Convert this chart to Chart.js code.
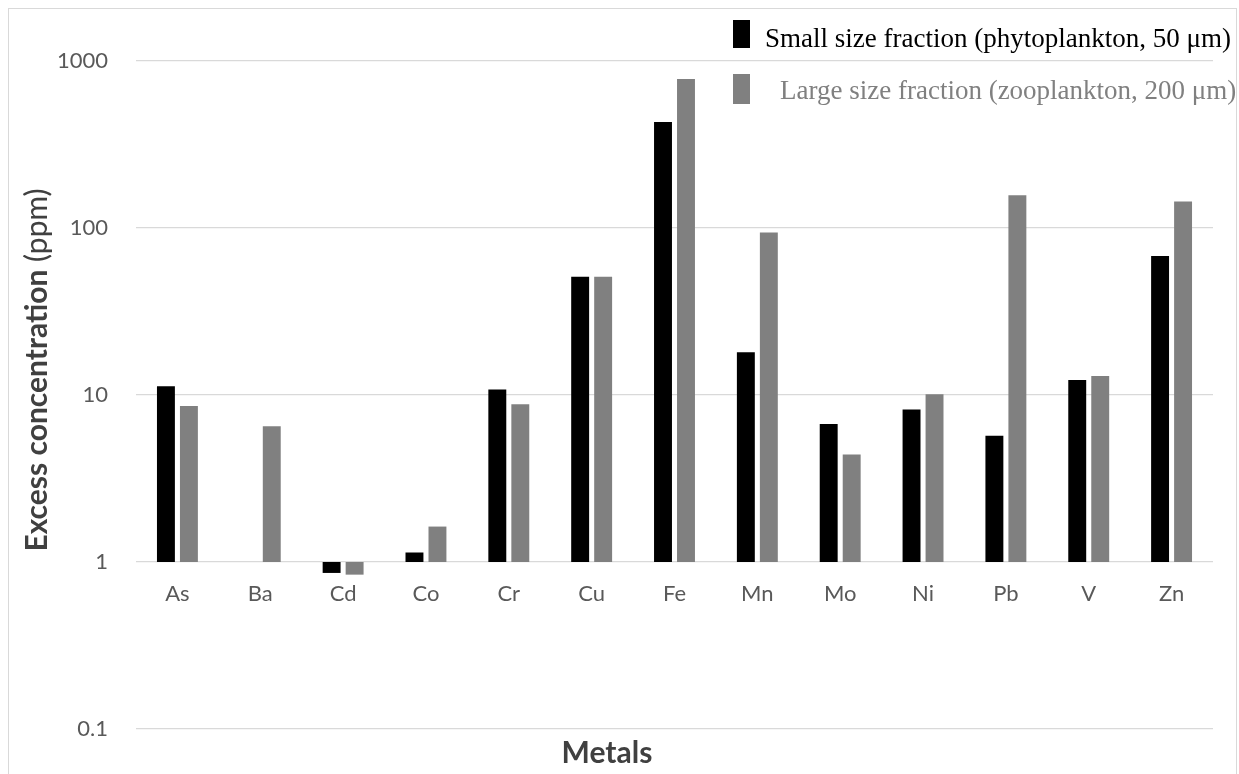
<!DOCTYPE html>
<html>
<head>
    <title>Excess concentration of metals</title>
    <script src="https://cdn.jsdelivr.net/npm/chart.js"></script>
    <style>
        body { margin: 0; background: #ffffff; }
    </style>
</head>
<body>
    <canvas id="chart" width="1239" height="774"></canvas>

    <script>
        const metals = ["As", "Ba", "Cd", "Co", "Cr", "Cu", "Fe", "Mn", "Mo", "Ni", "Pb", "V", "Zn"];
        const smallFraction = [11.3, null, 0.86, 1.14, 10.8, 51, 431, 18, 6.7, 8.2, 5.7, 12.3, 68];
        const largeFraction = [8.6, 6.5, 0.84, 1.63, 8.8, 51, 780, 94, 4.4, 10.1, 157, 13.0, 144];
        const yTicks = [0.1, 1, 10, 100, 1000];
        const seriesNames = [
            "Small size fraction (phytoplankton, 50 \u03bcm)",
            "Large size fraction (zooplankton, 200 \u03bcm)"
        ];
        const seriesColors = ["#000000", "#808080"];

        // Excel draws the bars from the value axis crossing at 1
        const baseValue = 1;
        function toBars(values) {
            return values.map(v => v == null ? null : [baseValue, v]);
        }

        const labelFont = "Lato, 'Open Sans', sans-serif";

        const decorations = {
            id: "decorations",
            afterDraw(chart) {
                const ctx = chart.ctx;
                const x = chart.scales.x;
                const y = chart.scales.y;
                ctx.save();

                // outer frame
                ctx.strokeStyle = "#d9d9d9";
                ctx.lineWidth = 1;
                ctx.strokeRect(8.5, 8.5, 1228, 780);

                // category labels sit under the crossing line
                ctx.fillStyle = "#595959";
                ctx.font = "22px " + labelFont;
                ctx.textAlign = "center";
                ctx.textBaseline = "alphabetic";
                const labelY = y.getPixelForValue(baseValue) + 39;
                metals.forEach((m, i) => {
                    ctx.fillText(m, x.getPixelForValue(i), labelY);
                });

                // x axis title
                ctx.fillStyle = "#404040";
                ctx.font = "bold 30px " + labelFont;
                ctx.fillText("Metals", 607, 763);

                // y axis title, bold part + normal part
                ctx.translate(37, 370);
                ctx.rotate(-Math.PI / 2);
                ctx.textAlign = "left";
                ctx.textBaseline = "middle";
                const boldPart = "Excess concentration";
                const normalPart = " (ppm)";
                ctx.font = "bold 30px " + labelFont;
                const w1 = ctx.measureText(boldPart).width;
                ctx.font = "30px " + labelFont;
                const w2 = ctx.measureText(normalPart).width;
                const start = -(w1 + w2) / 2;
                ctx.font = "bold 30px " + labelFont;
                ctx.fillText(boldPart, start, 0);
                ctx.font = "30px " + labelFont;
                ctx.fillText(normalPart, start + w1, 0);
                ctx.setTransform(1, 0, 0, 1, 0, 0);

                // legend
                const rows = [
                    { box: [733, 20, 17, 28], textX: 765, textY: 47 },
                    { box: [733, 74, 17, 30], textX: 780, textY: 99 }
                ];
                ctx.font = "27px 'Liberation Serif', 'Times New Roman', serif";
                ctx.textBaseline = "alphabetic";
                rows.forEach((r, i) => {
                    ctx.fillStyle = seriesColors[i];
                    ctx.fillRect(r.box[0], r.box[1], r.box[2], r.box[3]);
                    ctx.fillText(seriesNames[i], r.textX, r.textY);
                });

                ctx.restore();
            }
        };

        const ctx = document.getElementById("chart").getContext("2d");
        const chart = new Chart(ctx, {
            type: "bar",
            data: {
                labels: metals,
                datasets: [
                    {
                        label: seriesNames[0],
                        data: toBars(smallFraction),
                        backgroundColor: seriesColors[0],
                        borderWidth: 0,
                        barPercentage: 0.78,
                        categoryPercentage: 0.555,
                    },
                    {
                        label: seriesNames[1],
                        data: toBars(largeFraction),
                        backgroundColor: seriesColors[1],
                        borderWidth: 0,
                        barPercentage: 0.78,
                        categoryPercentage: 0.555,
                    },
                ],
            },
            options: {
                responsive: false,
                animation: false,
                devicePixelRatio: 1,
                layout: {
                    padding: { left: 0, top: 61, right: 26, bottom: 45 }
                },
                plugins: {
                    legend: { display: false },
                    tooltip: { enabled: false },
                },
                scales: {
                    x: {
                        ticks: { display: false },
                        grid: { display: false, drawTicks: false },
                        border: { display: false },
                        afterFit: s => { s.height = 0; },
                    },
                    y: {
                        type: "logarithmic",
                        min: 0.1,
                        max: 1000,
                        afterBuildTicks: s => {
                            s.ticks = yTicks.map(v => ({ value: v }));
                        },
                        afterFit: s => { s.width = 136; },
                        ticks: {
                            color: "#595959",
                            font: { family: labelFont, size: 22 },
                            padding: 28,
                            callback: v => String(v),
                        },
                        grid: { color: "#d9d9d9", lineWidth: 1.3, drawTicks: false },
                        border: { display: false },
                    },
                },
            },
            plugins: [decorations],
        });
    </script>
</body>
</html>
